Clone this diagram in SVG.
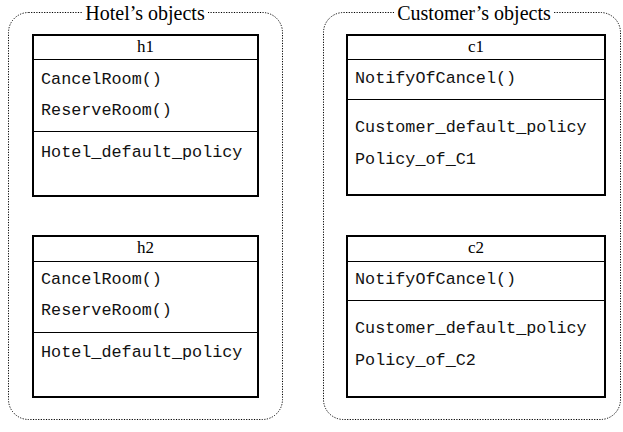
<svg xmlns="http://www.w3.org/2000/svg" width="623" height="432" viewBox="0 0 623 432">
<style>
.cont{fill:none;stroke:#000;stroke-width:1;stroke-dasharray:1.2 1.4}
.box{fill:#fff;stroke:#000;stroke-width:2}
.div{stroke:#000;stroke-width:1}
.title{font-family:"Liberation Serif",serif;font-size:20px;text-anchor:middle;fill:#000}
.name{font-family:"Liberation Serif",serif;font-size:17px;text-anchor:middle;fill:#000}
.mono{font-family:"Liberation Mono",monospace;font-size:16.8px;fill:#111}
</style>
<rect width="623" height="432" fill="#fff"/>
<g id="hotels">
<rect class="cont" x="8.5" y="12.5" width="274" height="407" rx="20"/>
<rect x="82" y="3" width="126" height="20" fill="#fff"/>
<text class="title" x="145" y="19.5">Hotel’s objects</text>
</g>
<g id="customers">
<rect class="cont" x="323.5" y="12.5" width="297" height="407" rx="20"/>
<rect x="394" y="3" width="160" height="20" fill="#fff"/>
<text class="title" x="474" y="19.5">Customer’s objects</text>
</g>
<g id="h1">
<rect class="box" x="33" y="35" width="225" height="161"/>
<line class="div" x1="33" y1="59.5" x2="258" y2="59.5"/>
<line class="div" x1="33" y1="131.5" x2="258" y2="131.5"/>
<text class="name" x="145.5" y="52">h1</text>
<text class="mono" x="41" y="84">CancelRoom()</text>
<text class="mono" x="41" y="115">ReserveRoom()</text>
<text class="mono" x="41" y="157">Hotel_default_policy</text>
</g>
<g id="h2">
<rect class="box" x="33" y="236" width="225" height="161"/>
<line class="div" x1="33" y1="261.5" x2="258" y2="261.5"/>
<line class="div" x1="33" y1="332.5" x2="258" y2="332.5"/>
<text class="name" x="145.5" y="253">h2</text>
<text class="mono" x="41" y="284">CancelRoom()</text>
<text class="mono" x="41" y="315">ReserveRoom()</text>
<text class="mono" x="41" y="357">Hotel_default_policy</text>
</g>
<g id="c1">
<rect class="box" x="347" y="35" width="258" height="160"/>
<line class="div" x1="347" y1="59.5" x2="605" y2="59.5"/>
<line class="div" x1="347" y1="99.5" x2="605" y2="99.5"/>
<text class="name" x="476" y="52">c1</text>
<text class="mono" x="355" y="83">NotifyOfCancel()</text>
<text class="mono" x="355" y="132">Customer_default_policy</text>
<text class="mono" x="355" y="164">Policy_of_C1</text>
</g>
<g id="c2">
<rect class="box" x="347" y="236" width="258" height="161"/>
<line class="div" x1="347" y1="261.5" x2="605" y2="261.5"/>
<line class="div" x1="347" y1="300.5" x2="605" y2="300.5"/>
<text class="name" x="476" y="253">c2</text>
<text class="mono" x="355" y="284">NotifyOfCancel()</text>
<text class="mono" x="355" y="333">Customer_default_policy</text>
<text class="mono" x="355" y="365">Policy_of_C2</text>
</g>
<g id="connectors"/>
</svg>
